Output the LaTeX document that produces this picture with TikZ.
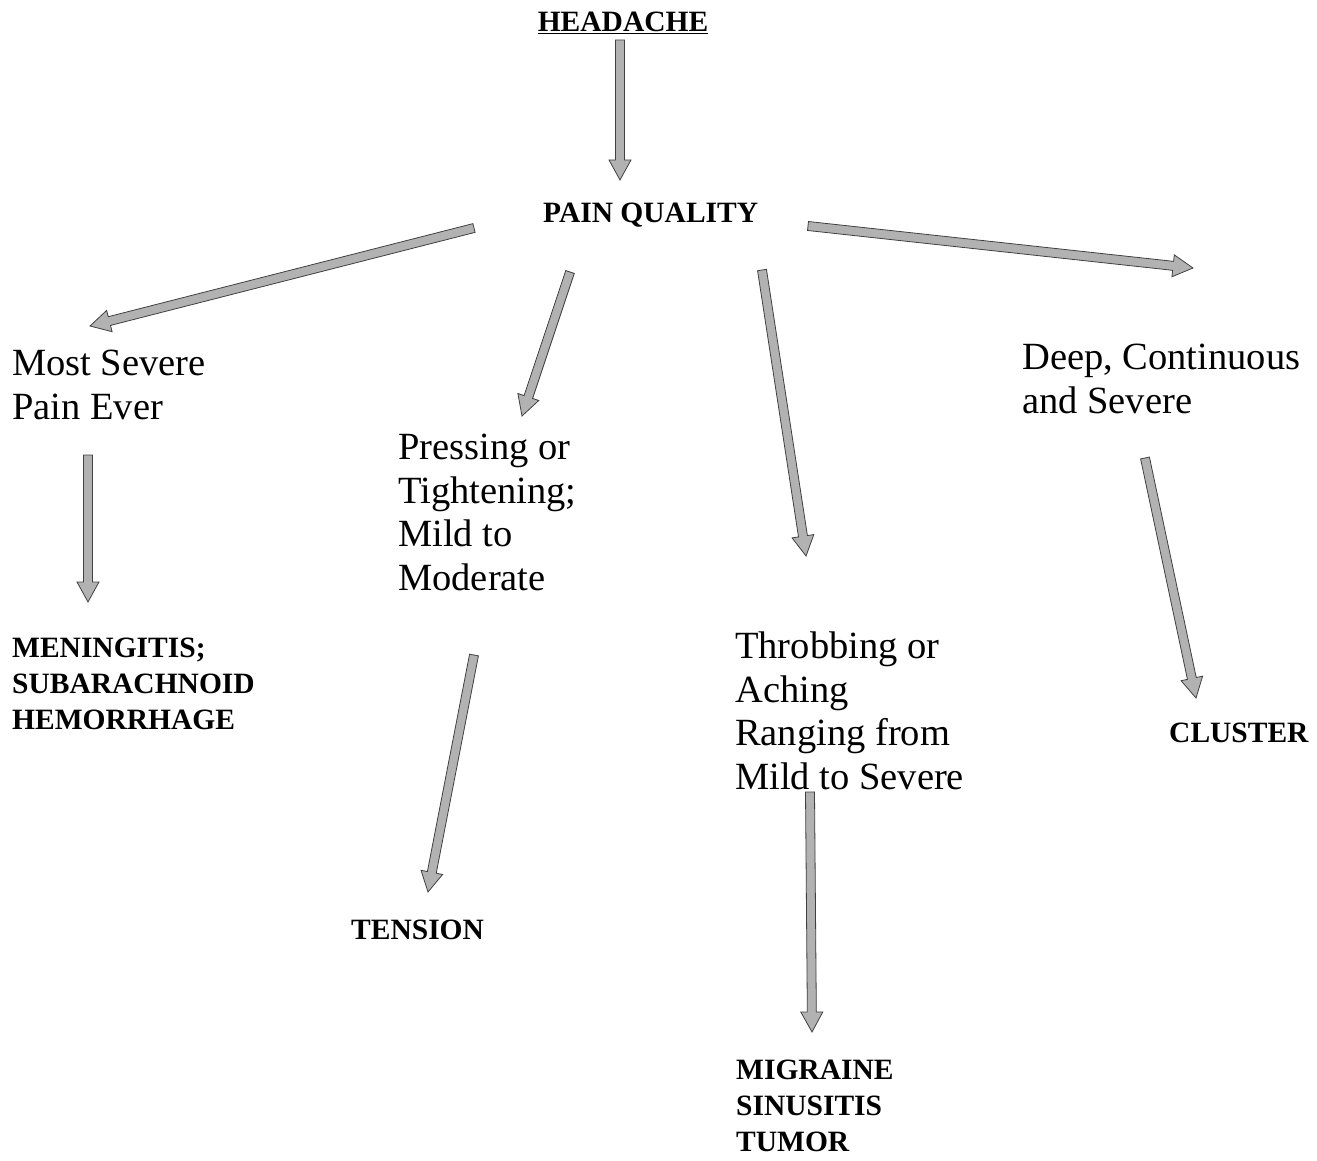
\documentclass[tikz,border=0pt]{standalone}
\usepackage{fontspec}
\setmainfont{Liberation Serif}
\usetikzlibrary{calc}

\tikzset{
  plain/.style={anchor=north west, inner sep=0pt, align=left,
    font=\fontsize{38.5}{43.5}\selectfont},
  heading/.style={anchor=north west, inner sep=0pt, align=left,
    font=\fontsize{29.5}{36}\selectfont\bfseries},
  arrowbody/.style={fill=gray!60, draw=gray!50!black, line width=0.8pt, line join=miter}
}

% Block arrow from coordinate #1 (tail) to coordinate #2 (tip)
\newcommand{\blockarrow}[2]{%
  \coordinate (#1-#2-hb) at ($(#2)!20pt!(#1)$);
  \path[arrowbody]
    ($(#1)!4.5pt!90:(#2)$) --
    ($(#1-#2-hb)!4.5pt!-90:(#1)$) --
    ($(#1-#2-hb)!11pt!-90:(#1)$) --
    (#2) --
    ($(#1-#2-hb)!11pt!90:(#1)$) --
    ($(#1-#2-hb)!4.5pt!90:(#1)$) --
    ($(#1)!4.5pt!-90:(#2)$) -- cycle;
}

\begin{document}
\begin{tikzpicture}[x=1pt, y=-1pt]
  \useasboundingbox (0,0) rectangle (1317,1161);

  % labels
  \node[heading, anchor=north] (head) at (623,12) {\underline{HEADACHE}};
  \node[heading] (pq) at (543,203) {PAIN QUALITY};

  \node[plain] (sev) at (12,350) {Most Severe\\Pain Ever};
  \node[plain] (press) at (398,434) {Pressing or\\Tightening;\\Mild to\\Moderate};
  \node[plain] (throb) at (735,632) {Throbbing or\\Aching\\Ranging from\\Mild to Severe};
  \node[plain] (deep) at (1022,344) {Deep, Continuous\\and Severe};

  \node[heading] (men) at (12,638) {MENINGITIS;\\SUBARACHNOID\\HEMORRHAGE};
  \node[heading] (ten) at (351,920) {TENSION};
  \node[heading] (mig) at (736,1060) {MIGRAINE\\SINUSITIS\\TUMOR};
  \node[heading] (clu) at (1169,723) {CLUSTER};

  % connector end points
  \coordinate (head-s)  at (620,40);
  \coordinate (pq-n)    at (620,180);
  \coordinate (pq-w)    at (474,228);
  \coordinate (sev-n)   at (90,326);
  \coordinate (pq-sw)   at (570,272);
  \coordinate (press-n) at (522,416);
  \coordinate (pq-se)   at (762,270);
  \coordinate (throb-n) at (806,556);
  \coordinate (pq-e)    at (808,226);
  \coordinate (deep-n)  at (1193,268);
  \coordinate (sev-s)   at (88,455);
  \coordinate (men-n)   at (88,602);
  \coordinate (press-s) at (474,655);
  \coordinate (ten-n)   at (428,892);
  \coordinate (throb-s) at (810,792);
  \coordinate (mig-n)   at (812,1032);
  \coordinate (deep-s)  at (1145,458);
  \coordinate (clu-n)   at (1196,698);

  % connectors
  \blockarrow{head-s}{pq-n}
  \blockarrow{pq-w}{sev-n}
  \blockarrow{pq-sw}{press-n}
  \blockarrow{pq-se}{throb-n}
  \blockarrow{pq-e}{deep-n}
  \blockarrow{sev-s}{men-n}
  \blockarrow{press-s}{ten-n}
  \blockarrow{throb-s}{mig-n}
  \blockarrow{deep-s}{clu-n}
\end{tikzpicture}
\end{document}
